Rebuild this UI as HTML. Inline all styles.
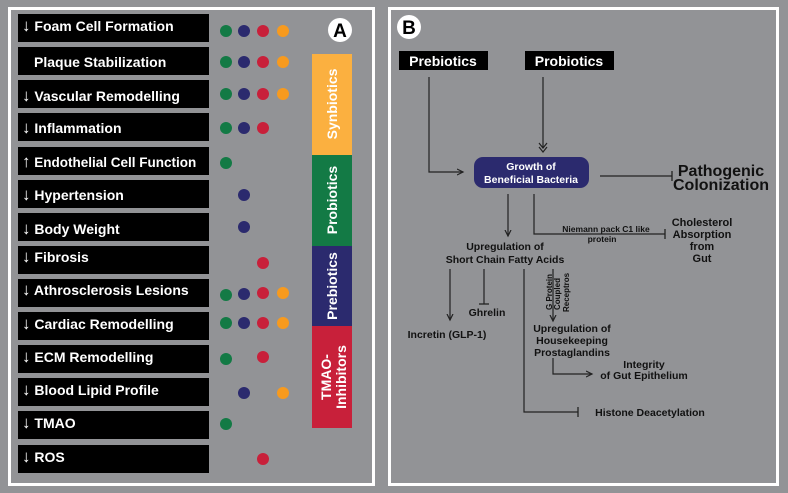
<!DOCTYPE html>
<html><head><style>
html,body{margin:0;padding:0;background:#929396;}
svg{display:block;font-family:"Liberation Sans",sans-serif;font-weight:bold;}
</style></head><body>
<svg width="788" height="493" viewBox="0 0 788 493" xmlns="http://www.w3.org/2000/svg">
<defs>
<marker id="ar" markerWidth="8" markerHeight="8" refX="6" refY="4" orient="auto" markerUnits="userSpaceOnUse"><path d="M0,1 L6,4 L0,7" fill="none" stroke="#222" stroke-width="1.2"/></marker>
<marker id="tb" markerWidth="4" markerHeight="10" refX="1" refY="5" orient="auto" markerUnits="userSpaceOnUse"><path d="M1,0 L1,10" stroke="#222" stroke-width="1.3"/></marker>
</defs>
<rect width="788" height="493" fill="#929396"/>
<rect x="9.5" y="8.5" width="364" height="476" fill="none" stroke="#fff" stroke-width="3"/>
<rect x="389.5" y="8.5" width="388" height="476" fill="none" stroke="#fff" stroke-width="3"/>

<g font-size="14" fill="#fff">
<rect x="18" y="14" width="191" height="28" fill="#000"/><text x="22" y="31"><tspan font-size="17">↓</tspan> Foam Cell Formation</text>
<rect x="18" y="47" width="191" height="28" fill="#000"/><text x="34" y="67">Plaque Stabilization</text>
<rect x="18" y="80" width="191" height="28" fill="#000"/><text x="22" y="101"><tspan font-size="17">↓</tspan> Vascular Remodelling</text>
<rect x="18" y="113" width="191" height="28" fill="#000"/><text x="22" y="133"><tspan font-size="17">↓</tspan> Inflammation</text>
<rect x="18" y="147" width="191" height="28" fill="#000"/><text x="22" y="167" font-size="13.5"><tspan font-size="17">↑</tspan> Endothelial Cell Function</text>
<rect x="18" y="180" width="191" height="28" fill="#000"/><text x="22" y="200"><tspan font-size="17">↓</tspan> Hypertension</text>
<rect x="18" y="213" width="191" height="28" fill="#000"/><text x="22" y="234"><tspan font-size="17">↓</tspan> Body Weight</text>
<rect x="18" y="246" width="191" height="28" fill="#000"/><text x="22" y="262"><tspan font-size="17">↓</tspan> Fibrosis</text>
<rect x="18" y="279" width="191" height="28" fill="#000"/><text x="22" y="295"><tspan font-size="17">↓</tspan> Athrosclerosis Lesions</text>
<rect x="18" y="312" width="191" height="28" fill="#000"/><text x="22" y="329"><tspan font-size="17">↓</tspan> Cardiac Remodelling</text>
<rect x="18" y="345" width="191" height="28" fill="#000"/><text x="22" y="362"><tspan font-size="17">↓</tspan> ECM Remodelling</text>
<rect x="18" y="378" width="191" height="28" fill="#000"/><text x="22" y="395"><tspan font-size="17">↓</tspan> Blood Lipid Profile</text>
<rect x="18" y="411" width="191" height="28" fill="#000"/><text x="22" y="428"><tspan font-size="17">↓</tspan> TMAO</text>
<rect x="18" y="445" width="191" height="28" fill="#000"/><text x="22" y="462"><tspan font-size="17">↓</tspan> ROS</text>
</g>

<g>
<circle cx="226" cy="31" r="6" fill="#137a45"/><circle cx="244" cy="31" r="6" fill="#2b2a6e"/><circle cx="263" cy="31" r="6" fill="#c8203a"/><circle cx="283" cy="31" r="6" fill="#f79a1e"/>
<circle cx="226" cy="62" r="6" fill="#137a45"/><circle cx="244" cy="62" r="6" fill="#2b2a6e"/><circle cx="263" cy="62" r="6" fill="#c8203a"/><circle cx="283" cy="62" r="6" fill="#f79a1e"/>
<circle cx="226" cy="94" r="6" fill="#137a45"/><circle cx="244" cy="94" r="6" fill="#2b2a6e"/><circle cx="263" cy="94" r="6" fill="#c8203a"/><circle cx="283" cy="94" r="6" fill="#f79a1e"/>
<circle cx="226" cy="128" r="6" fill="#137a45"/><circle cx="244" cy="128" r="6" fill="#2b2a6e"/><circle cx="263" cy="128" r="6" fill="#c8203a"/>
<circle cx="226" cy="163" r="6" fill="#137a45"/>
<circle cx="244" cy="195" r="6" fill="#2b2a6e"/>
<circle cx="244" cy="227" r="6" fill="#2b2a6e"/>
<circle cx="263" cy="263" r="6" fill="#c8203a"/>
<circle cx="226" cy="295" r="6" fill="#137a45"/><circle cx="244" cy="294" r="6" fill="#2b2a6e"/><circle cx="263" cy="293" r="6" fill="#c8203a"/><circle cx="283" cy="293" r="6" fill="#f79a1e"/>
<circle cx="226" cy="323" r="6" fill="#137a45"/><circle cx="244" cy="323" r="6" fill="#2b2a6e"/><circle cx="263" cy="323" r="6" fill="#c8203a"/><circle cx="283" cy="323" r="6" fill="#f79a1e"/>
<circle cx="226" cy="359" r="6" fill="#137a45"/><circle cx="263" cy="357" r="6" fill="#c8203a"/>
<circle cx="244" cy="393" r="6" fill="#2b2a6e"/><circle cx="283" cy="393" r="6" fill="#f79a1e"/>
<circle cx="226" cy="424" r="6" fill="#137a45"/>
<circle cx="263" cy="459" r="6" fill="#c8203a"/>
</g>

<circle cx="340" cy="30" r="12" fill="#fff"/>
<text x="340" y="37" font-size="19" text-anchor="middle" fill="#000">A</text>

<rect x="312" y="54" width="40" height="101" fill="#fbb040"/>
<rect x="312" y="155" width="40" height="91" fill="#137a45"/>
<rect x="312" y="246" width="40" height="80" fill="#2b2a6e"/>
<rect x="312" y="326" width="40" height="102" fill="#c8203a"/>
<g fill="#fff" font-size="14">
<text transform="translate(337,104) rotate(-90)" text-anchor="middle">Synbiotics</text>
<text transform="translate(337,200) rotate(-90)" text-anchor="middle">Probiotics</text>
<text transform="translate(337,286) rotate(-90)" text-anchor="middle">Prebiotics</text>
<text transform="translate(331,377) rotate(-90)" text-anchor="middle">TMAO-</text>
<text transform="translate(346,377) rotate(-90)" text-anchor="middle">Inhibitors</text>
</g>

<!-- Panel B -->
<circle cx="409" cy="27" r="12" fill="#fff"/>
<text x="409" y="34" font-size="19" text-anchor="middle" fill="#000">B</text>
<rect x="399" y="51" width="89" height="19" fill="#000"/>
<text x="443" y="66" font-size="14" fill="#fff" text-anchor="middle">Prebiotics</text>
<rect x="525" y="51" width="89" height="19" fill="#000"/>
<text x="569" y="66" font-size="14" fill="#fff" text-anchor="middle">Probiotics</text>

<g stroke="#222" stroke-width="1.2" fill="none">
<path d="M429,77 V172 H463" marker-end="url(#ar)"/>
<path d="M543,77 V148"/>
<path d="M539,143 L543,148 L547,143 M539,147 L543,152 L547,147"/>
<path d="M600,176 H672" marker-end="url(#tb)"/>
<path d="M508,194 V236" marker-end="url(#ar)"/>
<path d="M534,194 V234 H665" marker-end="url(#tb)"/>
<path d="M450,269 V320" marker-end="url(#ar)"/>
<path d="M484,269 V304" marker-end="url(#tb)"/>
<path d="M524,269 V412 H578" marker-end="url(#tb)"/>
<path d="M553,269 V321" marker-end="url(#ar)"/>
<path d="M553,358 V374 H592" marker-end="url(#ar)"/>
</g>

<rect x="474" y="157" width="115" height="31" rx="9" fill="#2b2a6e"/>
<g font-size="10.5" fill="#fff" text-anchor="middle">
<text x="531" y="170">Growth of</text>
<text x="531" y="183">Beneficial Bacteria</text>
</g>

<g fill="#111" text-anchor="middle">
<text x="721" y="176" font-size="16">Pathogenic</text>
<text x="721" y="190" font-size="16">Colonization</text>
<text x="606" y="232" font-size="8.5">Niemann pack C1 like</text>
<text x="602" y="242" font-size="8.5">protein</text>
<text x="702" y="226" font-size="11">Cholesterol</text>
<text x="702" y="238" font-size="11">Absorption</text>
<text x="702" y="250" font-size="11">from</text>
<text x="702" y="262" font-size="11">Gut</text>
<text x="505" y="250" font-size="10.5">Upregulation of</text>
<text x="505" y="263" font-size="10.5">Short Chain Fatty Acids</text>
<text x="487" y="316" font-size="10.5">Ghrelin</text>
<text x="447" y="338" font-size="10.5">Incretin (GLP-1)</text>
<text x="572" y="332" font-size="10.5">Upregulation of</text>
<text x="572" y="344" font-size="10.5">Housekeeping</text>
<text x="572" y="356" font-size="10.5">Prostaglandins</text>
<text x="644" y="368" font-size="10.5">Integrity</text>
<text x="644" y="379" font-size="10.5">of Gut Epithelium</text>
<text x="650" y="416" font-size="10.5">Histone Deacetylation</text>
</g>
<g fill="#111" font-size="8">
<text transform="translate(552,310) rotate(-90)">G Protein</text>
<text transform="translate(560,310) rotate(-90)">Coupled</text>
<text transform="translate(569,312) rotate(-90)">Receptros</text>
</g>
</svg>
</body></html>
